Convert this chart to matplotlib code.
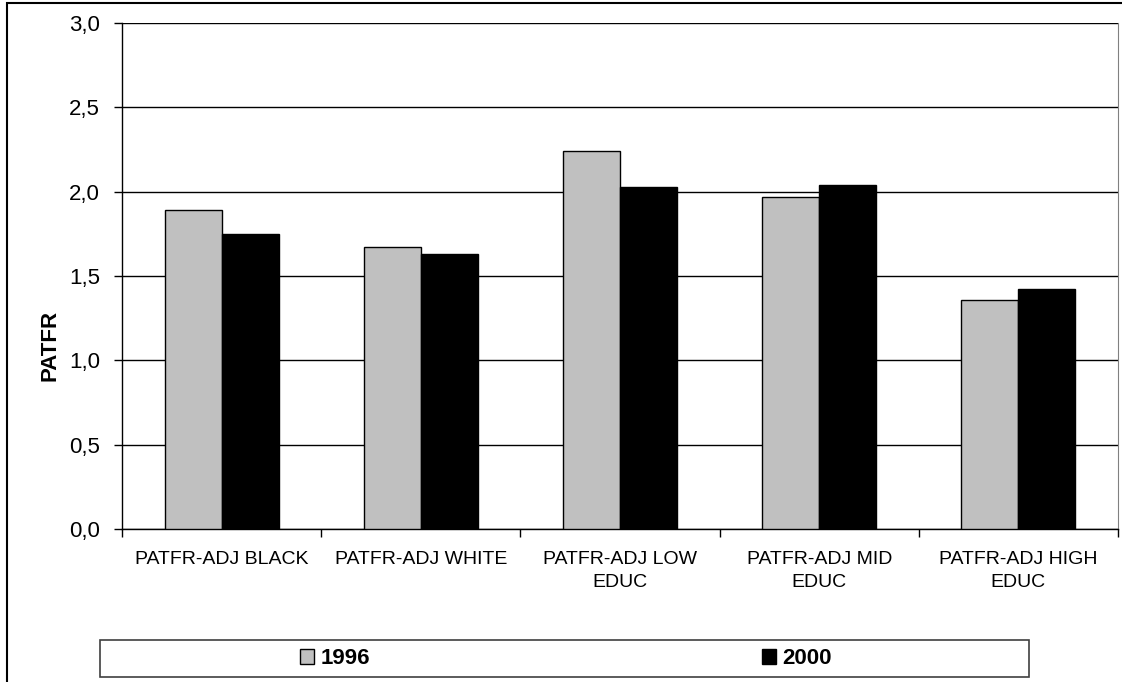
import matplotlib.pyplot as plt
from matplotlib.patches import Patch, Rectangle

plt.rcParams['font.family'] = ['Liberation Sans', 'DejaVu Sans']

categories = ["PATFR-ADJ BLACK", "PATFR-ADJ WHITE", "PATFR-ADJ LOW\nEDUC",
              "PATFR-ADJ MID\nEDUC", "PATFR-ADJ HIGH\nEDUC"]
years = ["1996", "2000"]
patfr_1996 = [1.89, 1.67, 2.24, 1.97, 1.36]
patfr_2000 = [1.75, 1.63, 2.03, 2.04, 1.42]
yticks = [0.0, 0.5, 1.0, 1.5, 2.0, 2.5, 3.0]
colors = ["#c0c0c0", "#000000"]

W, H = 1122, 682
fig = plt.figure(figsize=(W / 100, H / 100), dpi=100)
ax = fig.add_axes([122 / W, 1 - 529 / H, 996 / W, 506 / H])

x = list(range(len(categories)))
w = 0.286
ax.bar([i - w / 2 for i in x], patfr_1996, width=w, color=colors[0],
       edgecolor="black", linewidth=1, zorder=3)
ax.bar([i + w / 2 for i in x], patfr_2000, width=w, color=colors[1],
       edgecolor="black", linewidth=1, zorder=3)

ax.set_xlim(-0.5, len(categories) - 0.5)
ax.set_ylim(0, 3.0)
ax.set_yticks(yticks)
ax.set_yticklabels([f"{v:.1f}".replace(".", ",") for v in yticks], fontsize=16)
ax.yaxis.grid(True, color="black", linewidth=1, zorder=0)
ax.tick_params(axis="y", length=6, width=1, pad=9.8)

# category labels on major ticks, separator ticks on minor ticks
ax.set_xticks(x)
ax.set_xticklabels(categories, fontsize=14, linespacing=1.45)
ax.tick_params(axis="x", which="major", length=0, pad=16)
ax.set_xticks([i - 0.5 for i in range(len(categories) + 1)], minor=True)
ax.tick_params(axis="x", which="minor", length=6, width=1)

ax.spines["top"].set_visible(False)
ax.spines["right"].set_color("#808080")
ax.spines["left"].set_linewidth(1)
ax.spines["bottom"].set_linewidth(1)

ax.set_ylabel("PATFR", fontsize=16, fontweight="bold", va="center")
ax.yaxis.set_label_coords((50 - 122) / 996, (529 - 345) / 506)

# chart border and legend box
fig.patches.append(Rectangle((7 / W, -0.01), 1.1, 1 - 3 / H + 0.01, transform=fig.transFigure,
                             fill=False, edgecolor="black", linewidth=1.5))
fig.patches.append(Rectangle((100 / W, 1 - 677 / H), 929 / W, 37 / H, transform=fig.transFigure,
                             fill=False, edgecolor="#404040", linewidth=1.2))

handles = [Patch(facecolor=c, edgecolor="black", linewidth=1) for c in colors]
leg = fig.legend(handles, years, loc="center", ncol=2, frameon=False,
                 bbox_to_anchor=(566 / W, 1 - 658.5 / H),
                 prop={"size": 16, "weight": "bold"},
                 handlelength=0.65, handleheight=0.65, handletextpad=0.3,
                 columnspacing=17.6)

fig.savefig("out.png", dpi=100)
